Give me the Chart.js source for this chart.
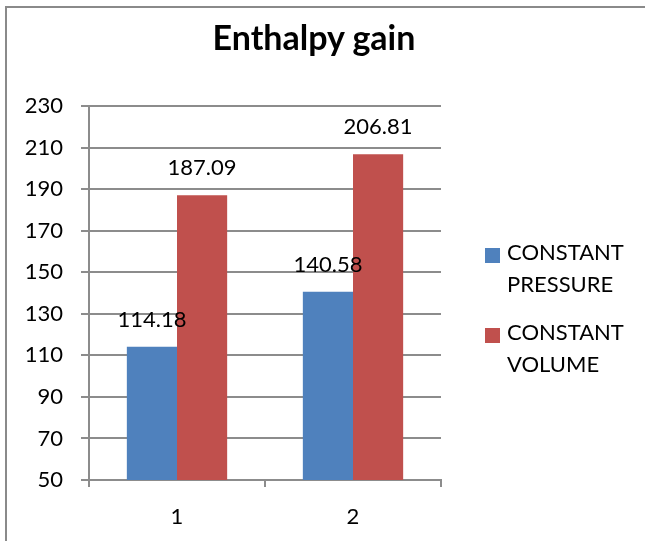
<!DOCTYPE html>
<html>
<head>
<meta charset="utf-8">
<script src="https://cdn.jsdelivr.net/npm/chart.js@4/dist/chart.umd.min.js"></script>
<style>
  body { margin: 0; background: #fff; font-family: Lato, sans-serif; }
  #wrap { position: relative; width: 645px; height: 541px; overflow: hidden; }
  #frame { position: absolute; left: 5px; top: 6px; width: 700px; height: 600px; border: 2px solid #8a8a8a; }
  #chartBox { position: absolute; left: 0; top: 0; width: 645px; height: 541px; }
  #title { position: absolute; left: 0; top: 17px; width: 628px; text-align: center; font: bold 34px/40px Lato, sans-serif; color: #000; }
  .leg { position: absolute; left: 507px; font: 22px/32px Lato, sans-serif; color: #000; }
  .sw { position: absolute; left: 485px; width: 15px; height: 15px; }
</style>
</head>
<body>
<div id="wrap">
  <div id="frame"></div>
  <div id="chartBox"><canvas id="enthalpyChart"></canvas></div>
  <div id="title">Enthalpy gain</div>
  <div id="legend"></div>
</div>
<script>
let categories = ['1', '2'];
let seriesNames = [['CONSTANT', 'PRESSURE'], ['CONSTANT', 'VOLUME']];
let pressureValues = [114.18, 140.58];
let volumeValues = [187.09, 206.81];
let seriesColors = ['#4F81BD', '#C0504D'];

let legendTops = [236, 316];
let legendBox = document.getElementById('legend');
seriesNames.forEach((name, i) => {
    let sw = document.createElement('div');
    sw.className = 'sw';
    sw.style.top = (legendTops[i] + 12) + 'px';
    sw.style.background = seriesColors[i];
    legendBox.appendChild(sw);
    let txt = document.createElement('div');
    txt.className = 'leg';
    txt.style.top = legendTops[i] + 'px';
    txt.innerHTML = name.join('<br>');
    legendBox.appendChild(txt);
});

// value labels above each bar
let barLabels = {
    id: 'barLabels',
    afterDatasetsDraw(chart) {
        let ctx = chart.ctx;
        ctx.save();
        ctx.font = '22px Lato, sans-serif';
        ctx.fillStyle = '#000';
        ctx.textAlign = 'center';
        ctx.textBaseline = 'middle';
        chart.data.datasets.forEach((ds, i) => {
            chart.getDatasetMeta(i).data.forEach((bar, j) => {
                ctx.fillText(ds.data[j].toFixed(2), bar.x, bar.y - 27);
            });
        });
        ctx.restore();
    }
};

let axisGray = '#8c8c8c';

let enthalpyCtx = document.getElementById('enthalpyChart').getContext('2d');
window.enthalpyBar = new Chart(enthalpyCtx, {
    type: 'bar',
    data: {
        labels: categories,
        datasets: [
            {
                label: seriesNames[0].join(' '),
                data: pressureValues,
                backgroundColor: seriesColors[0],
                categoryPercentage: 0.57,
                barPercentage: 1
            },
            {
                label: seriesNames[1].join(' '),
                data: volumeValues,
                backgroundColor: seriesColors[1],
                categoryPercentage: 0.57,
                barPercentage: 1
            }
        ]
    },
    options: {
        responsive: true,
        maintainAspectRatio: false,
        animation: false,
        layout: { padding: { left: 0, top: 106, right: 204, bottom: 0 } },
        plugins: {
            legend: { display: false },
            title: { display: false },
            tooltip: { enabled: false }
        },
        scales: {
            x: {
                grid: { drawOnChartArea: false, tickLength: 7, color: axisGray, lineWidth: 2 },
                border: { color: axisGray, width: 2 },
                ticks: { color: '#000', font: { family: 'Lato', size: 22 }, padding: 17 },
                afterFit: scale => { scale.height = 61; }
            },
            y: {
                min: 50,
                max: 230,
                grid: { tickLength: 8, color: axisGray, lineWidth: 2 },
                border: { color: axisGray, width: 2 },
                ticks: { stepSize: 20, color: '#000', font: { family: 'Lato', size: 22 }, padding: 18 },
                afterFit: scale => { scale.width = 89; }
            }
        }
    },
    plugins: [barLabels]
});
</script>
</body>
</html>
